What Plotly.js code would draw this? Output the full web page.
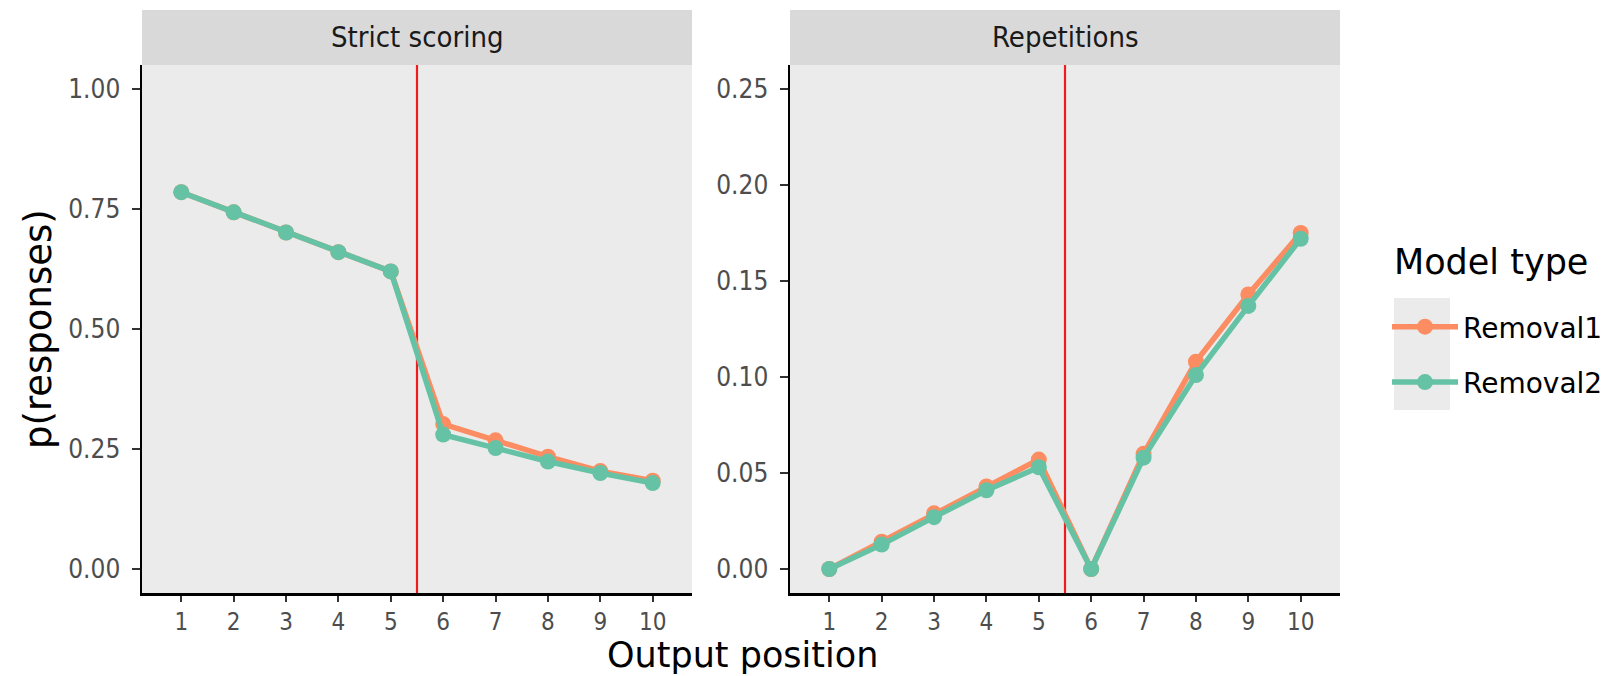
<!DOCTYPE html>
<html>
<head>
<meta charset="utf-8">
<script src="https://cdn.plot.ly/plotly-3.0.1.min.js"></script>
<style>html,body{margin:0;padding:0;background:#fff;}#chart{width:1621px;height:676px;}</style>
</head>
<body>
<div id="chart"></div>
<script>
const positions = [1, 2, 3, 4, 5, 6, 7, 8, 9, 10];
const strictRemoval1 = [0.785, 0.743, 0.701, 0.660, 0.620, 0.302, 0.268, 0.234, 0.204, 0.184];
const strictRemoval2 = [0.785, 0.743, 0.701, 0.660, 0.620, 0.280, 0.252, 0.224, 0.200, 0.179];
const repRemoval1 = [0.000, 0.0142, 0.029, 0.043, 0.057, 0.000, 0.060, 0.108, 0.143, 0.175];
const repRemoval2 = [0.000, 0.0127, 0.027, 0.041, 0.053, 0.000, 0.058, 0.101, 0.137, 0.172];
const panelTitles = ["Strict scoring", "Repetitions"];
const seriesNames = ["Removal1", "Removal2"];
const leftTicks = [0, 0.25, 0.5, 0.75, 1.0];
const leftTickText = ["0.00", "0.25", "0.50", "0.75", "1.00"];
const rightTicks = [0, 0.05, 0.1, 0.15, 0.2, 0.25];
const rightTickText = ["0.00", "0.05", "0.10", "0.15", "0.20", "0.25"];
const cutPoint = 5.5;

const orange = "#fc8d62", green = "#66c2a5";
const W = 1621, H = 676;
const px = v => v / W, py = v => 1 - v / H;

function tr(x, y, name, color, xa, ya, show) {
  return {x: x, y: y, name: name, type: "scatter", mode: "lines+markers",
    xaxis: xa, yaxis: ya, showlegend: show, legendgroup: name,
    line: {color: color, width: 5.5}, marker: {color: color, size: 16}};
}
const data = [
  tr(positions, strictRemoval1, seriesNames[0], orange, "x", "y", true),
  tr(positions, strictRemoval2, seriesNames[1], green, "x", "y", true),
  tr(positions, repRemoval1, seriesNames[0], orange, "x2", "y2", false),
  tr(positions, repRemoval2, seriesNames[1], green, "x2", "y2", false)
];

const condensed = "DejaVu Sans Condensed, DejaVu Sans";
const yTickFont = {family: condensed, size: 26, color: "#4d4d4d"};
const xTickFont = {family: condensed, size: 24, color: "#4d4d4d"};
function xax(domain, anchor) {
  return {domain: domain, anchor: anchor, range: [0.25, 10.75], tickvals: positions,
    ticktext: positions.map(String), showgrid: false, zeroline: false, showline: true,
    linecolor: "#000", linewidth: 2.5, ticks: "outside", ticklen: 6, tickcolor: "#333",
    tickwidth: 2, tickfont: xTickFont, fixedrange: true};
}
function yax(domain, anchor, range, tv, tt) {
  return {domain: domain, anchor: anchor, range: range, tickvals: tv, ticktext: tt,
    showgrid: false, zeroline: false, showline: true, linecolor: "#000", linewidth: 2.5,
    ticks: "outside", ticklen: 8, tickcolor: "#333", tickwidth: 2, tickfont: yTickFont,
    ticklabelstandoff: 6};
}
const yDom = [py(593), py(65)];
const d1 = [px(142), px(692)], d2 = [px(790), px(1340)];

const layout = {
  width: W, height: H, margin: {l: 0, r: 0, t: 0, b: 0},
  paper_bgcolor: "#ffffff", plot_bgcolor: "#ebebeb",
  xaxis: xax(d1, "y"), yaxis: yax(yDom, "x", [-0.05, 1.05], leftTicks, leftTickText),
  xaxis2: xax(d2, "y2"), yaxis2: yax(yDom, "x2", [-0.0125, 0.2625], rightTicks, rightTickText),
  shapes: [
    {type: "rect", xref: "paper", yref: "paper", x0: d1[0], x1: d1[1], y0: py(65), y1: py(10), fillcolor: "#d9d9d9", line: {width: 0}, layer: "below"},
    {type: "rect", xref: "paper", yref: "paper", x0: d2[0], x1: d2[1], y0: py(65), y1: py(10), fillcolor: "#d9d9d9", line: {width: 0}, layer: "below"},
    {type: "line", xref: "x", yref: "y domain", x0: cutPoint, x1: cutPoint, y0: 0, y1: 1, line: {color: "#ee1c1c", width: 2.2}, layer: "below"},
    {type: "line", xref: "x2", yref: "y2 domain", x0: cutPoint, x1: cutPoint, y0: 0, y1: 1, line: {color: "#ee1c1c", width: 2.2}, layer: "below"},
    {type: "rect", xref: "paper", yref: "paper", x0: px(1394), x1: px(1450), y0: py(410), y1: py(298), fillcolor: "#ebebeb", line: {width: 0}}
  ],
  annotations: [
    {text: panelTitles[0], xref: "paper", yref: "paper", x: (d1[0] + d1[1]) / 2, y: py(37), showarrow: false, xanchor: "center", yanchor: "middle", font: {family: condensed, size: 29, color: "#1a1a1a"}},
    {text: panelTitles[1], xref: "paper", yref: "paper", x: (d2[0] + d2[1]) / 2, y: py(37), showarrow: false, xanchor: "center", yanchor: "middle", font: {family: condensed, size: 29, color: "#1a1a1a"}},
    {text: "Output position", xref: "paper", yref: "paper", x: px(742), y: 0, showarrow: false, xanchor: "center", yanchor: "bottom", borderpad: 0, font: {family: "DejaVu Sans", size: 35, color: "#000"}},
    {text: "p(responses)", xref: "paper", yref: "paper", x: px(38), y: py(329), showarrow: false, textangle: -90, xanchor: "center", yanchor: "middle", font: {family: "DejaVu Sans", size: 37, color: "#000"}},
    {text: "Model type", xref: "paper", yref: "paper", x: px(1392), y: py(262), showarrow: false, xanchor: "left", yanchor: "middle", font: {family: "DejaVu Sans", size: 35, color: "#000"}}
  ],
  showlegend: true,
  legend: {x: px(1387), y: py(302), xanchor: "left", yanchor: "top", bgcolor: "rgba(0,0,0,0)",
    font: {family: "DejaVu Sans", size: 28, color: "#000"}, itemwidth: 66, tracegroupgap: 16,
    traceorder: "grouped"}
};
Plotly.newPlot("chart", data, layout, {staticPlot: true, displayModeBar: false});
</script>
</body>
</html>
